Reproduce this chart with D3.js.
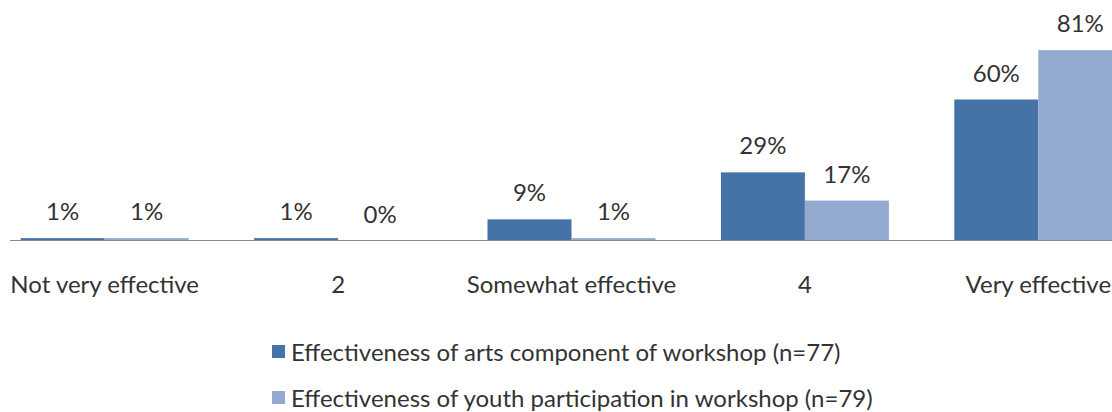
<!DOCTYPE html>
<html>
<head>
<meta charset="utf-8">
<script src="https://cdn.jsdelivr.net/npm/d3@7"></script>
<style>
  body { margin: 0; background: #fff; }
  text { font-family: Lato, "Open Sans", sans-serif; fill: #333; }
</style>
</head>
<body>
<div id="chart"></div>
<script>
const categories = ['Not very effective', '2', 'Somewhat effective', '4', 'Very effective'];
const seriesNames = [
  'Effectiveness of arts component of workshop (n=77)',
  'Effectiveness of youth participation in workshop (n=79)'
];
const artsValues = [1, 1, 9, 29, 60];
const youthValues = [1, 0, 1, 17, 81];
const colors = ['#4572A7', '#93A9CF'];

const width = 1112, height = 412;
const baseline = 240.5;
const fontSize = 24;

const svg = d3.select('#chart')
  .append('svg')
  .attr('width', width)
  .attr('height', height);

const x0 = d3.scaleBand()
  .domain(categories)
  .range([-12, 1155]);

const bw = x0.bandwidth();
const x1 = d3.scaleBand()
  .domain(seriesNames)
  .range([bw / 2 - 84, bw / 2 + 84]);

const y = d3.scaleLinear()
  .domain([0, 100])
  .range([baseline, baseline - 235]);

const rows = categories.map((c, i) => ({
  cat: c,
  vals: [artsValues[i], youthValues[i]]
}));

// Bars
const groups = svg.selectAll('g.group')
  .data(rows)
  .enter().append('g')
  .attr('class', 'group')
  .attr('transform', d => `translate(${x0(d.cat)},0)`);

groups.selectAll('rect')
  .data(d => d.vals.map((v, j) => ({ v, s: seriesNames[j], j })))
  .enter().append('rect')
  .attr('x', d => x1(d.s))
  .attr('width', x1.bandwidth())
  .attr('y', d => y(d.v))
  .attr('height', d => baseline - y(d.v))
  .attr('fill', d => colors[d.j]);

// Value labels
groups.selectAll('text.val')
  .data(d => d.vals.map((v, j) => ({ v, s: seriesNames[j] })))
  .enter().append('text')
  .attr('class', 'val')
  .attr('x', d => x1(d.s) + x1.bandwidth() / 2)
  .attr('y', d => y(d.v) - 18)
  .attr('text-anchor', 'middle')
  .attr('font-size', fontSize)
  .text(d => d.v + '%');

// Axis
svg.append('line')
  .attr('x1', 10).attr('x2', width)
  .attr('y1', baseline).attr('y2', baseline)
  .attr('stroke', '#8a8a8a')
  .attr('stroke-width', 1);

svg.selectAll('text.cat')
  .data(categories)
  .enter().append('text')
  .attr('class', 'cat')
  .attr('x', d => x0(d) + bw / 2)
  .attr('y', 293)
  .attr('text-anchor', 'middle')
  .attr('font-size', fontSize)
  .text(d => d);

// Legend
const legend = svg.selectAll('g.legend')
  .data(seriesNames)
  .enter().append('g')
  .attr('class', 'legend')
  .attr('transform', (d, i) => `translate(272,${345 + i * 46})`);

legend.append('rect')
  .attr('width', 13).attr('height', 13)
  .attr('fill', (d, i) => colors[i]);

legend.append('text')
  .attr('x', 19)
  .attr('y', 16)
  .attr('font-size', fontSize)
  .text(d => d);
</script>
</body>
</html>
